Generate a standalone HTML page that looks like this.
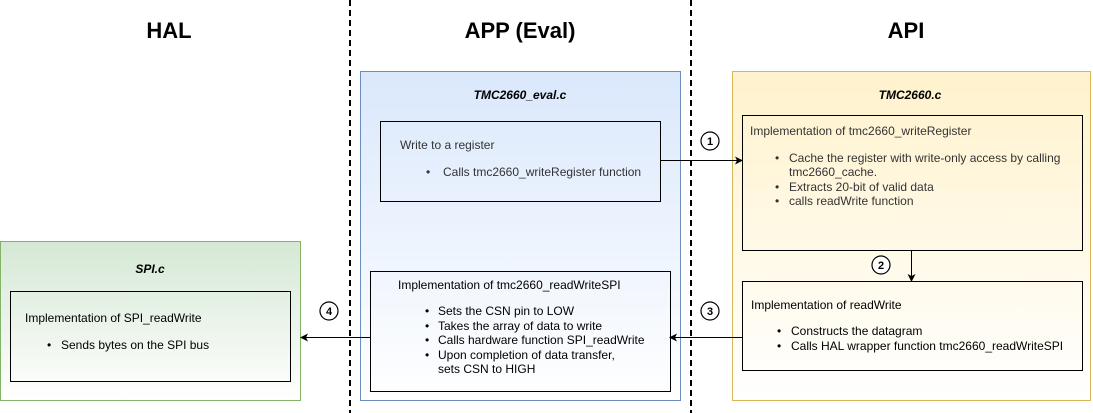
<!DOCTYPE html>
<html><head><meta charset="utf-8"><style>
html,body{margin:0;padding:0;background:#fff;width:1093px;height:413px;overflow:hidden}
svg{display:block;font-family:"Liberation Sans",Arial,sans-serif}
</style></head><body>
<svg width="1093" height="413" viewBox="0 0 1093 413" xmlns="http://www.w3.org/2000/svg">
<defs>
<linearGradient id="gb" x1="0" y1="0" x2="0" y2="1"><stop offset="0" stop-color="#dae8fc"/><stop offset="1" stop-color="#ffffff"/></linearGradient>
<linearGradient id="gy" x1="0" y1="0" x2="0" y2="1"><stop offset="0" stop-color="#fff2cc"/><stop offset="1" stop-color="#ffffff"/></linearGradient>
<linearGradient id="gg" x1="0" y1="0" x2="0" y2="1"><stop offset="0" stop-color="#d5e8d4"/><stop offset="1" stop-color="#ffffff"/></linearGradient>
</defs>
<g font-size="22" font-weight="bold" text-anchor="middle" fill="#000">
<text x="169" y="38">HAL</text><text x="520" y="38">APP (Eval)</text><text x="906" y="38">API</text>
</g>
<rect x="360.5" y="71.5" width="320" height="329" fill="url(#gb)" stroke="#6c8ebf"/>
<rect x="732.5" y="71.5" width="358" height="329" fill="url(#gy)" stroke="#d6b656"/>
<rect x="0.5" y="241.5" width="300" height="159" fill="url(#gg)" stroke="#82b366"/>
<g font-size="12" font-weight="bold" font-style="italic" text-anchor="middle">
<text x="520" y="99">TMC2660_eval.c</text><text x="910" y="99">TMC2660.c</text><text x="150" y="273">SPI.c</text>
</g>
<g fill="none" stroke="#000">
<rect x="380.5" y="121.5" width="280" height="80"/>
<rect x="370.5" y="271.5" width="300" height="120"/>
<rect x="742.5" y="115.5" width="340" height="135"/>
<rect x="742.5" y="281.5" width="340" height="89"/>
<rect x="10.5" y="291.5" width="280" height="90"/>
</g>
<g font-size="12" fill="#333">
<text x="400" y="149">Write to a register</text>
<text x="426" y="176">•</text><text x="443" y="176">Calls tmc2660_writeRegister function</text>
</g>
<g font-size="12" fill="#000">
<text x="398" y="289">Implementation of tmc2660_readWriteSPI</text>
<text x="425" y="315">•</text><text x="438" y="315">Sets the CSN pin to LOW</text>
<text x="425" y="330">•</text><text x="438" y="330">Takes the array of data to write</text>
<text x="425" y="344">•</text><text x="438" y="344">Calls hardware function SPI_readWrite</text>
<text x="425" y="359">•</text><text x="438" y="359">Upon completion of data transfer,</text>
<text x="438" y="373">sets CSN to HIGH</text>
</g>
<g font-size="12" fill="#333">
<text x="750" y="135">Implementation of tmc2660_writeRegister</text>
<text x="775" y="162">•</text><text x="789" y="162">Cache the register with write-only access by calling</text>
<text x="789" y="176">tmc2660_cache.</text>
<text x="775" y="191">•</text><text x="789" y="191">Extracts 20-bit of valid data</text>
<text x="775" y="205">•</text><text x="789" y="205">calls readWrite function</text>
</g>
<g font-size="12" fill="#000">
<text x="751" y="309">Implementation of readWrite</text>
<text x="777" y="335">•</text><text x="791" y="335">Constructs the datagram</text>
<text x="777" y="350">•</text><text x="791" y="350">Calls HAL wrapper function tmc2660_readWriteSPI</text>
<text x="25" y="322">Implementation of SPI_readWrite</text>
<text x="47" y="349">•</text><text x="61" y="349">Sends bytes on the SPI bus</text>
</g>
<g stroke="#000" stroke-width="2" stroke-dasharray="6,4">
<line x1="350" y1="0" x2="350" y2="413"/><line x1="691" y1="0" x2="691" y2="413"/>
</g>
<g stroke="#000" stroke-width="1" fill="none">
<line x1="660" y1="160.5" x2="738" y2="160.5"/>
<line x1="911.5" y1="250" x2="911.5" y2="277"/>
<line x1="742" y1="337.5" x2="674" y2="337.5"/>
<line x1="370" y1="337.5" x2="305" y2="337.5"/>
</g>
<g fill="#000">
<path d="M743,160.5 L735,156.5 L737,160.5 L735,164.5Z"/>
<path d="M911.5,282 L907.5,274 L911.5,276 L915.5,274Z"/>
<path d="M669,337.5 L677,333.5 L675,337.5 L677,341.5Z"/>
<path d="M300,337.5 L308,333.5 L306,337.5 L308,341.5Z"/>
</g>
<g fill="#fff" stroke="#000" stroke-width="1.2">
<circle cx="710" cy="141" r="9"/><circle cx="881" cy="265" r="9"/><circle cx="710" cy="311" r="9"/><circle cx="329" cy="311" r="9"/>
</g>
<g font-size="11" font-weight="bold" text-anchor="middle">
<text x="710" y="145">1</text><text x="881" y="269">2</text><text x="710" y="315">3</text><text x="329" y="315">4</text>
</g>
</svg>
</body></html>
